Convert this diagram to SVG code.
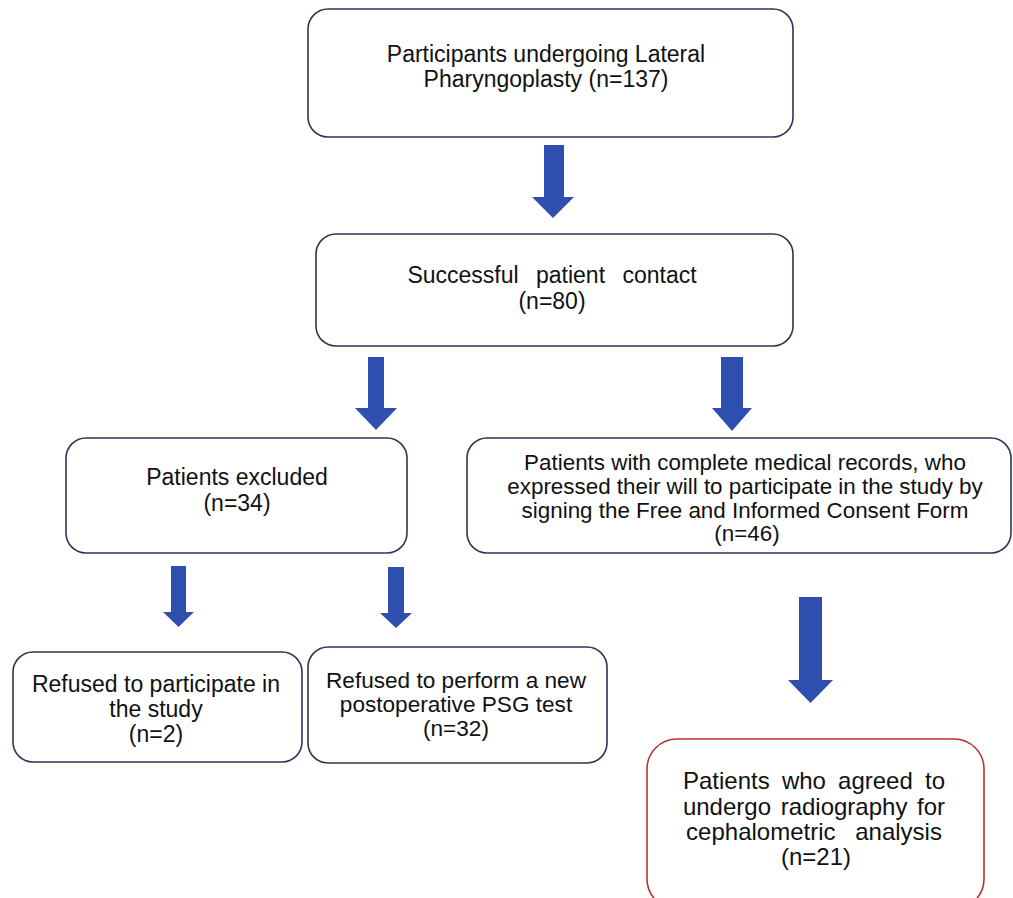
<svg xmlns="http://www.w3.org/2000/svg" width="1013" height="898" viewBox="0 0 1013 898">
<style>
.box{fill:#fff;stroke:#2c3654;stroke-width:1.6}
.red{fill:#fff;stroke:#b8332b;stroke-width:1.6}
.t{font-family:"Liberation Sans",Arial,sans-serif;font-size:23px;fill:#111;text-anchor:middle}
.arr{fill:#2f4fb0}
</style>
<rect width="1013" height="898" fill="#fff"/>
<g id="connectors">
<polygon class="arr" points="544,145 564,145 564,197 574,197 553,218 532,197 544,197"/>
<polygon class="arr" points="368,357 384,357 384,408 397,408 376,430 355,408 368,408"/>
<polygon class="arr" points="721,357 743,357 743,408 752,408 732,431 712,408 721,408"/>
<polygon class="arr" points="171,566 186,566 186,612 194,612 178.5,627 163,612 171,612"/>
<polygon class="arr" points="388,567 404,567 404,613 412,613 396,628 380,613 388,613"/>
<polygon class="arr" points="799,597 822,597 822,680 833,680 810.5,703 788,680 799,680"/>
</g>
<g id="n1">
<rect class="box" x="308" y="9" width="485" height="128" rx="20"/>
<text class="t" x="546" y="62">Participants undergoing Lateral</text>
<text class="t" x="546" y="87">Pharyngoplasty (n=137)</text>
</g>
<g id="n2">
<rect class="box" x="316" y="234" width="477" height="112" rx="20"/>
<text class="t" x="552" y="283" word-spacing="11">Successful patient contact</text>
<text class="t" x="552" y="309">(n=80)</text>
</g>
<g id="n3">
<rect class="box" x="66" y="438" width="341" height="115" rx="20"/>
<text class="t" x="237" y="485">Patients excluded</text>
<text class="t" x="237" y="511">(n=34)</text>
</g>
<g id="n4">
<rect class="box" x="467" y="438" width="544" height="115" rx="20"/>
<text class="t" x="745" y="470" style="font-size:22.4px">Patients with complete medical records, who</text>
<text class="t" x="745" y="494" style="font-size:22.4px">expressed their will to participate in the study by</text>
<text class="t" x="745" y="518" style="font-size:22.4px">signing the Free and Informed Consent Form</text>
<text class="t" x="747" y="541" style="font-size:22.4px">(n=46)</text>
</g>
<g id="n5">
<rect class="box" x="13" y="652" width="289" height="110" rx="20"/>
<text class="t" x="156" y="692">Refused to participate in</text>
<text class="t" x="156" y="717">the study</text>
<text class="t" x="156" y="742">(n=2)</text>
</g>
<g id="n6">
<rect class="box" x="308" y="647" width="299" height="116" rx="20"/>
<text class="t" x="456" y="688" style="font-size:22.6px">Refused to perform a new</text>
<text class="t" x="456" y="712" style="font-size:22.6px">postoperative PSG test</text>
<text class="t" x="456" y="736" style="font-size:22.6px">(n=32)</text>
</g>
<g id="n7">
<rect class="red" x="647" y="739" width="337" height="170" rx="30"/>
<text class="t" x="814" y="789" style="font-size:24px" word-spacing="5.5">Patients who agreed to</text>
<text class="t" x="814" y="815" style="font-size:24px" word-spacing="3">undergo radiography for</text>
<text class="t" x="814" y="840" style="font-size:24px" word-spacing="13">cephalometric analysis</text>
<text class="t" x="816" y="865" style="font-size:24px">(n=21)</text>
</g>
</svg>
